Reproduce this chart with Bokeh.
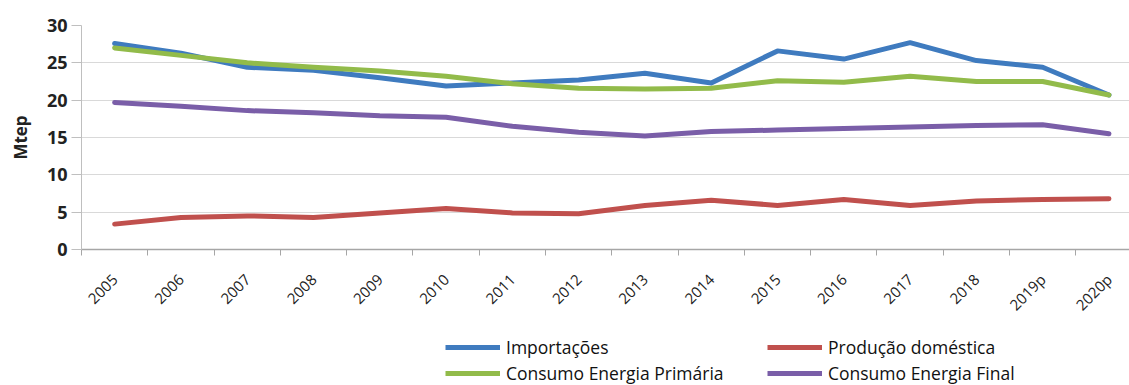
import math
from bokeh.plotting import figure
from bokeh.layouts import column
from bokeh.models import FixedTicker, Legend, LegendItem
from bokeh.embed import file_html
from bokeh.resources import INLINE

years = ["2005", "2006", "2007", "2008", "2009", "2010", "2011", "2012",
         "2013", "2014", "2015", "2016", "2017", "2018", "2019p", "2020p"]
importacoes = [27.6, 26.3, 24.4, 24.0, 23.0, 21.9, 22.3, 22.7,
               23.6, 22.3, 26.6, 25.5, 27.7, 25.3, 24.4, 20.7]
producao = [3.4, 4.3, 4.5, 4.3, 4.9, 5.5, 4.9, 4.8,
            5.9, 6.6, 5.9, 6.7, 5.9, 6.5, 6.7, 6.8]
primaria = [27.0, 26.0, 25.0, 24.4, 23.9, 23.2, 22.2, 21.6,
            21.5, 21.6, 22.6, 22.4, 23.2, 22.5, 22.5, 20.7]
final = [19.7, 19.2, 18.6, 18.3, 17.9, 17.7, 16.5, 15.7,
         15.2, 15.8, 16.0, 16.2, 16.4, 16.6, 16.7, 15.5]
y_ticks = [0, 5, 10, 15, 20, 25, 30]

xs = list(range(len(years)))
FONT = "Open Sans"
LEFT = 81

p = figure(width=1129, height=330, output_backend="svg", toolbar_location=None,
           x_range=(-0.5, 15.31), y_range=(0, 30),
           min_border_left=LEFT, min_border_right=0, min_border_top=25,
           min_border_bottom=81)
p.outline_line_color = None
p.background_fill_color = "white"
p.border_fill_color = "white"

p.xgrid.grid_line_color = None
p.ygrid.grid_line_color = "#d9d9d9"
p.ygrid.grid_line_width = 1

# x axis
p.xaxis.ticker = FixedTicker(ticks=xs, minor_ticks=[i - 0.5 for i in range(len(years) + 1)])
p.xaxis.major_label_overrides = {i: y for i, y in enumerate(years)}
p.xaxis.major_label_orientation = math.pi / 4
p.xaxis.major_tick_line_color = None
p.xaxis.minor_tick_line_color = "#a6a6a6"
p.xaxis.minor_tick_out = 6
p.xaxis.minor_tick_in = 0
p.xaxis.axis_line_color = "#a6a6a6"
p.xaxis.axis_line_width = 1.5
p.xaxis.major_label_text_font = FONT
p.xaxis.major_label_text_font_size = "15px"
p.xaxis.major_label_text_color = "#222222"
p.xaxis.major_label_standoff = 21

# y axis
p.yaxis.ticker = FixedTicker(ticks=y_ticks)
p.yaxis.minor_tick_line_color = None
p.yaxis.major_tick_out = 10
p.yaxis.major_tick_in = 0
p.yaxis.major_tick_line_color = "#bfbfbf"
p.yaxis.axis_line_color = "#bfbfbf"
p.yaxis.major_label_text_font = FONT
p.yaxis.major_label_text_font_size = "18px"
p.yaxis.major_label_text_font_style = "bold"
p.yaxis.major_label_text_color = "#222222"
p.yaxis.major_label_standoff = 4
p.yaxis.axis_label = "Mtep"
p.yaxis.axis_label_text_font = FONT
p.yaxis.axis_label_text_font_size = "17px"
p.yaxis.axis_label_text_font_style = "bold"
p.yaxis.axis_label_text_color = "#222222"
p.yaxis.axis_label_standoff = 12

series = [
    ("Importações", importacoes, "#3f7bbf"),
    ("Produção doméstica", producao, "#c0504d"),
    ("Consumo Energia Primária", primaria, "#92bb4a"),
    ("Consumo Energia Final", final, "#7a5ea8"),
]
for name, vals, col in series:
    p.line(xs, vals, line_color=col, line_width=5, line_join="round", line_cap="round")

# legend figure below the chart (frames are aligned by the column layout)
lf = figure(width=1129, height=55, output_backend="svg", toolbar_location=None,
            x_axis_location=None, y_axis_location=None,
            x_range=(100, 101), y_range=(100, 101),
            min_border_left=0, min_border_right=0, min_border_top=0, min_border_bottom=0)
lf.outline_line_color = None
lf.grid.visible = False
dummy = {}
for name, vals, col in series:
    dummy[name] = lf.line([0, 1], [0, 0], line_color=col, line_width=5)

def make_legend(names, vx):
    lg = Legend(items=[LegendItem(label=n, renderers=[dummy[n]]) for n in names],
                location=(vx, -1), orientation="vertical",
                padding=0, margin=0, spacing=0,
                label_height=26, glyph_height=26, glyph_width=55,
                label_standoff=6, border_line_color=None,
                background_fill_alpha=0,
                label_text_font=FONT, label_text_font_size="17.5px",
                label_text_color="#111111")
    lf.add_layout(lg)

make_legend(["Importações", "Consumo Energia Primária"], 445 - LEFT)
make_legend(["Produção doméstica", "Consumo Energia Final"], 767 - LEFT)

layout = column(p, lf, spacing=0)
open("out.html", "w").write(file_html(layout, INLINE))
